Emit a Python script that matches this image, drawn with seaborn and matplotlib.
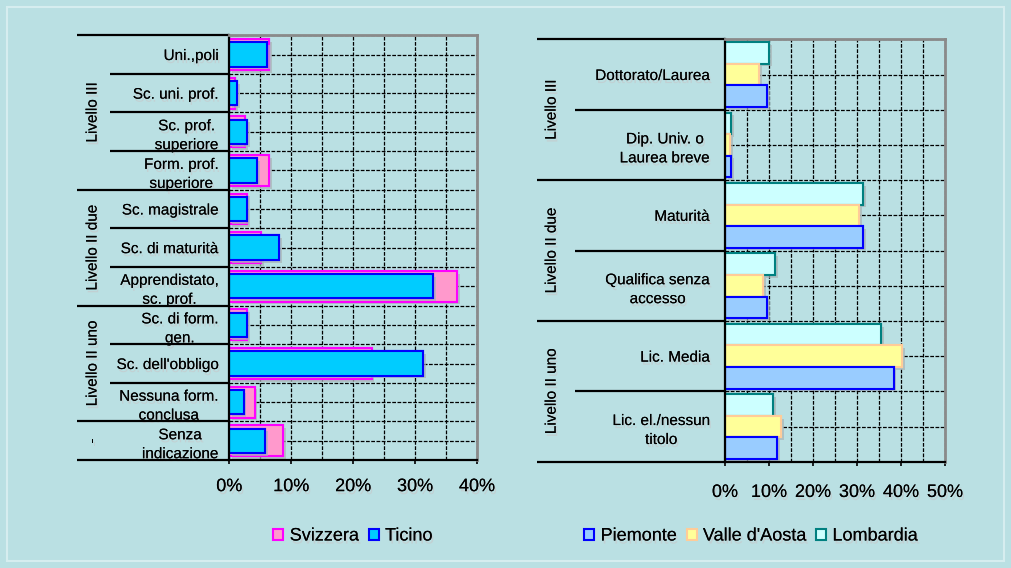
"""
Livelli di formazione: Svizzera/Ticino (sinistra) e
Piemonte/Valle d'Aosta/Lombardia (destra), barre orizzontali in percentuale.
"""
import pandas as pd
import matplotlib.pyplot as plt
import matplotlib.patheffects as pe
import matplotlib.transforms as mtransforms
from matplotlib.patches import Patch, Rectangle
from matplotlib.ticker import FuncFormatter, MultipleLocator
import seaborn as sns

# dati pannello sinistro (%)
left_categories = ['Uni.,poli', 'Sc. uni. prof.', 'Sc. prof.\nsuperiore',
                   'Form. prof.\nsuperiore', 'Sc. magistrale',
                   'Sc. di maturità', 'Apprendistato,\nsc. prof.',
                   'Sc. di form.\ngen.', "Sc. dell'obbligo",
                   'Nessuna form.\nconclusa', 'Senza\nindicazione']
svizzera = [6.4, 1.0, 2.6, 6.4, 2.9, 5.2, 36.8, 2.9, 23.0, 4.1, 8.7]
ticino = [6.1, 1.3, 2.9, 4.5, 2.8, 8.1, 32.9, 2.8, 31.3, 2.3, 5.8]
left_groups = ['Livello III', 'Livello II due', 'Livello II uno', '-']
left_group_sizes = [4, 3, 3, 1]
left_xticks = [0, 10, 20, 30, 40]

# dati pannello destro (%)
right_categories = ['Dottorato/Laurea', 'Dip. Univ. o\nLaurea breve',
                    'Maturità', 'Qualifica senza\naccesso', 'Lic. Media',
                    'Lic. el./nessun\ntitolo']
piemonte = [9.6, 1.4, 31.4, 9.6, 38.3, 11.9]
valle_aosta = [7.8, 1.1, 30.5, 8.7, 40.2, 12.7]
lombardia = [10.1, 1.4, 31.4, 11.4, 35.5, 11.0]
right_groups = ['Livello III', 'Livello II due', 'Livello II uno']
right_group_sizes = [2, 2, 2]
right_xticks = [0, 10, 20, 30, 40, 50]

BG = '#bae0e3'
TEXT_SHADOW = [pe.withSimplePatchShadow(offset=(1.2, -2.2),
                                        shadow_rgbFace='#c4cdcf', alpha=0.8),
               pe.Normal()]
BAR_SHADOW = [pe.withSimplePatchShadow(offset=(2, -2),
                                       shadow_rgbFace='#a9b4b6', alpha=0.7),
              pe.Normal()]


def style_axis(ax, xticks, n_cat, label_pad, tick_pad):
    """
    Common look: dashed grid every 5 %, gray top/right frame,
    percent tick labels, category labels with shadow
    """
    ax.set_facecolor(BG)
    ax.set_xlim(xticks[0], xticks[-1])
    ax.set_ylim(n_cat - 0.5, -0.5)
    ax.set_xticks(xticks)
    ax.xaxis.set_minor_locator(MultipleLocator(5))
    ax.xaxis.set_major_formatter(FuncFormatter(lambda v, p: '%d%%' % v))
    ax.set_yticks(range(n_cat))
    ax.set_yticks([i - 0.5 for i in range(n_cat + 1)], minor=True)
    ax.set_axisbelow(True)
    ax.grid(which='both', axis='both', color='black', linestyle=(0, (3, 1.2)),
            linewidth=0.9)
    ax.tick_params(axis='x', which='major', length=3, width=1.2,
                   labelsize=13, pad=tick_pad, direction='out')
    ax.tick_params(axis='x', which='minor', length=0)
    ax.tick_params(axis='y', which='both', length=0, labelsize=11,
                   pad=label_pad)
    for lab in ax.get_yticklabels():
        lab.set_multialignment('center')
        lab.set_linespacing(1.45)
    for lab in ax.get_xticklabels() + ax.get_yticklabels():
        lab.set_path_effects(TEXT_SHADOW)
    for side in ['left', 'bottom']:
        ax.spines[side].set_color('black')
        ax.spines[side].set_linewidth(1.6)
    for side in ['top', 'right']:
        ax.spines[side].set_color('#8a8a8a')
        ax.spines[side].set_linewidth(2.0)
    ax.set_xlabel('')
    ax.set_ylabel('')


def draw_groups(ax, groups, sizes, n_cat, x_group, x_cat, x_label):
    """
    Draws the black separator lines that stick out to the left and the
    rotated group names
    """
    trans = mtransforms.blended_transform_factory(ax.transAxes, ax.transData)
    group_edges = [-0.5]
    for s in sizes:
        group_edges.append(group_edges[-1] + s)
    for i in range(n_cat + 1):
        edge = i - 0.5
        x_start = x_group if edge in group_edges else x_cat
        ax.plot([x_start, 0], [edge, edge], color='black', linewidth=1.6,
                transform=trans, clip_on=False, solid_capstyle='butt')
    for name, lo, hi in zip(groups, group_edges[:-1], group_edges[1:]):
        t = ax.text(x_label, (lo + hi) / 2, name, rotation=90, ha='center',
                    va='center', fontsize=11, transform=trans)
        t.set_path_effects(TEXT_SHADOW)


def left_chart(ax):
    """
    Svizzera (wide pink bars) with Ticino (narrow cyan bars) on top
    """
    df = pd.DataFrame({'categoria': left_categories,
                       'Svizzera': svizzera, 'Ticino': ticino})
    sns.barplot(data=df, x='Svizzera', y='categoria', orient='h',
                color='#ff99cc', edgecolor='#ff00ff', linewidth=1.5,
                width=0.8, saturation=1, ax=ax)
    sns.barplot(data=df, x='Ticino', y='categoria', orient='h',
                color='#00ccff', edgecolor='#0000ff', linewidth=1.5,
                width=0.63, saturation=1, ax=ax)
    for bar in ax.patches:
        bar.set_path_effects(BAR_SHADOW)
    style_axis(ax, left_xticks, len(left_categories), 8, 10)
    draw_groups(ax, left_groups, left_group_sizes, len(left_categories),
                -0.615, -0.482, -0.552)


def right_chart(ax):
    """
    Three regions side by side per title of study
    """
    hue_order = ['Lombardia', "Valle d'Aosta", 'Piemonte']
    faces = {'Piemonte': '#99ccff', "Valle d'Aosta": '#ffff99',
             'Lombardia': '#ccffff'}
    edges = {'Piemonte': '#0000ff', "Valle d'Aosta": '#ffcc99',
             'Lombardia': '#008080'}
    df = pd.DataFrame({'categoria': right_categories, 'Piemonte': piemonte,
                       "Valle d'Aosta": valle_aosta, 'Lombardia': lombardia})
    df_long = df.melt(id_vars='categoria', var_name='regione',
                      value_name='valore')
    sns.barplot(data=df_long, x='valore', y='categoria', hue='regione',
                hue_order=hue_order, palette=faces, orient='h', width=0.92,
                saturation=1, linewidth=1.5, legend=False, ax=ax)
    for name, cont in zip(hue_order, ax.containers):
        for bar in cont:
            bar.set_edgecolor(edges[name])
            bar.set_path_effects(BAR_SHADOW)
    style_axis(ax, right_xticks, len(right_categories), 11, 13)
    draw_groups(ax, right_groups, right_group_sizes, len(right_categories),
                -0.855, -0.682, -0.788)
    return faces, edges


def main():
    plt.rcParams['font.family'] = ['Liberation Sans', 'DejaVu Sans']
    fig = plt.figure(figsize=(10.11, 5.68), dpi=100, facecolor=BG)
    fig.patches.append(Rectangle((7 / 1011, 7 / 568), 997 / 1011, 554 / 568,
                                 transform=fig.transFigure, fill=False,
                                 edgecolor='#d6edef', linewidth=1.5))

    ax_l = fig.add_axes([0.2268, 0.190, 0.245, 0.748])
    ax_r = fig.add_axes([0.7171, 0.1871, 0.2176, 0.7437])
    left_chart(ax_l)
    faces, edges = right_chart(ax_r)

    leg_opts = dict(loc='center', frameon=False, fontsize=13,
                    handlelength=0.55, handleheight=0.55, handletextpad=0.35,
                    columnspacing=0.55, borderpad=0)
    h_left = [Patch(facecolor='#ff99cc', edgecolor='#ff00ff', linewidth=1.5),
              Patch(facecolor='#00ccff', edgecolor='#0000ff', linewidth=1.5)]
    leg = fig.legend(h_left, ['Svizzera', 'Ticino'], ncol=2,
                     bbox_to_anchor=(353 / 1011, 1 - 536 / 568), **leg_opts)
    for t in leg.get_texts():
        t.set_path_effects(TEXT_SHADOW)
    order = ['Piemonte', "Valle d'Aosta", 'Lombardia']
    h_right = [Patch(facecolor=faces[n], edgecolor=edges[n], linewidth=1.5)
               for n in order]
    leg = fig.legend(h_right, order, ncol=3,
                     bbox_to_anchor=(751 / 1011, 1 - 536 / 568), **leg_opts)
    for t in leg.get_texts():
        t.set_path_effects(TEXT_SHADOW)

    fig.savefig('out.png', dpi=100, facecolor=BG)


if __name__ == '__main__':
    main()
